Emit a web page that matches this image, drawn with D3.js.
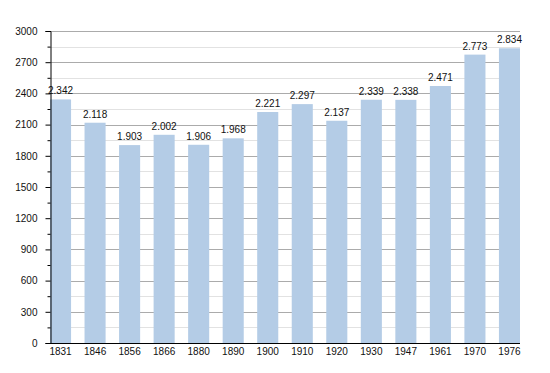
<!DOCTYPE html>
<html><head><meta charset="utf-8">
<script src="https://cdn.jsdelivr.net/npm/d3@7"></script>
<style>body{margin:0;background:#fff}svg{display:block}text{font-family:"Liberation Sans",Arial,sans-serif}</style>
</head><body>
<script>
const years = ["1831","1846","1856","1866","1880","1890","1900","1910","1920","1930","1947","1961","1970","1976"];
const population = [2342,2118,1903,2002,1906,1968,2221,2297,2137,2339,2338,2471,2773,2834];
const labels = ["2.342","2.118","1.903","2.002","1.906","1.968","2.221","2.297","2.137","2.339","2.338","2.471","2.773","2.834"];
const majorTicks = [0,300,600,900,1200,1500,1800,2100,2400,2700,3000];
const minorTicks = [150,450,750,1050,1350,1650,1950,2250,2550,2850];

const W=550,H=373, L=50, R=520, T=31, B=343;
const svg=d3.select("body").append("svg").attr("width",W).attr("height",H);
const x=d3.scaleBand().domain(years).range([L,R]).paddingInner(0.39).paddingOuter(0);
const y=d3.scaleLinear().domain([0,3000]).range([B,T]);

svg.append("g").selectAll("line").data(minorTicks).join("line")
  .attr("x1",L).attr("x2",R).attr("y1",d=>Math.round(y(d))+0.5).attr("y2",d=>Math.round(y(d))+0.5)
  .attr("stroke","#e2e2e2").attr("stroke-width",1);
svg.append("g").selectAll("line").data(majorTicks.filter(d=>d>0)).join("line")
  .attr("x1",L).attr("x2",R).attr("y1",d=>Math.round(y(d))+0.5).attr("y2",d=>Math.round(y(d))+0.5)
  .attr("stroke","#ababab").attr("stroke-width",1);

svg.append("g").selectAll("rect").data(population).join("rect")
  .attr("x",(d,i)=>x(years[i])).attr("width",x.bandwidth())
  .attr("y",d=>y(d)).attr("height",d=>B-y(d)).attr("fill","#b4cce6");

svg.append("g").selectAll("text").data(population).join("text")
  .attr("x",(d,i)=>x(years[i])+x.bandwidth()/2).attr("y",d=>y(d)-5)
  .attr("text-anchor","middle").attr("font-size",10).attr("fill","#111")
  .text((d,i)=>labels[i]);

// y axis
const yAxis=d3.axisLeft(y).tickValues(majorTicks).tickSize(5).tickPadding(8).tickFormat(d3.format("d"));
const ga=svg.append("g").attr("transform",`translate(${L+0.5},0)`).call(yAxis);
ga.select(".domain").attr("stroke","#000");
ga.selectAll(".tick line").attr("stroke","#000");
ga.selectAll("text").attr("font-size",10).attr("fill","#111").attr("font-family","Liberation Sans, Arial, sans-serif");
const gm=svg.append("g").attr("transform",`translate(${L+0.5},0)`).call(d3.axisLeft(y).tickValues(minorTicks).tickSize(3).tickFormat(""));
gm.select(".domain").remove();
gm.selectAll(".tick line").attr("stroke","#000");

// x axis
const xAxis=d3.axisBottom(x).tickSize(0).tickPadding(4.5);
const gx=svg.append("g").attr("transform",`translate(0,${B+0.5})`).call(xAxis);
gx.select(".domain").attr("stroke","#000").attr("d",`M${L},0H${R}`);
gx.selectAll("text").attr("font-size",10).attr("fill","#111").attr("font-family","Liberation Sans, Arial, sans-serif");
</script>
</body></html>
